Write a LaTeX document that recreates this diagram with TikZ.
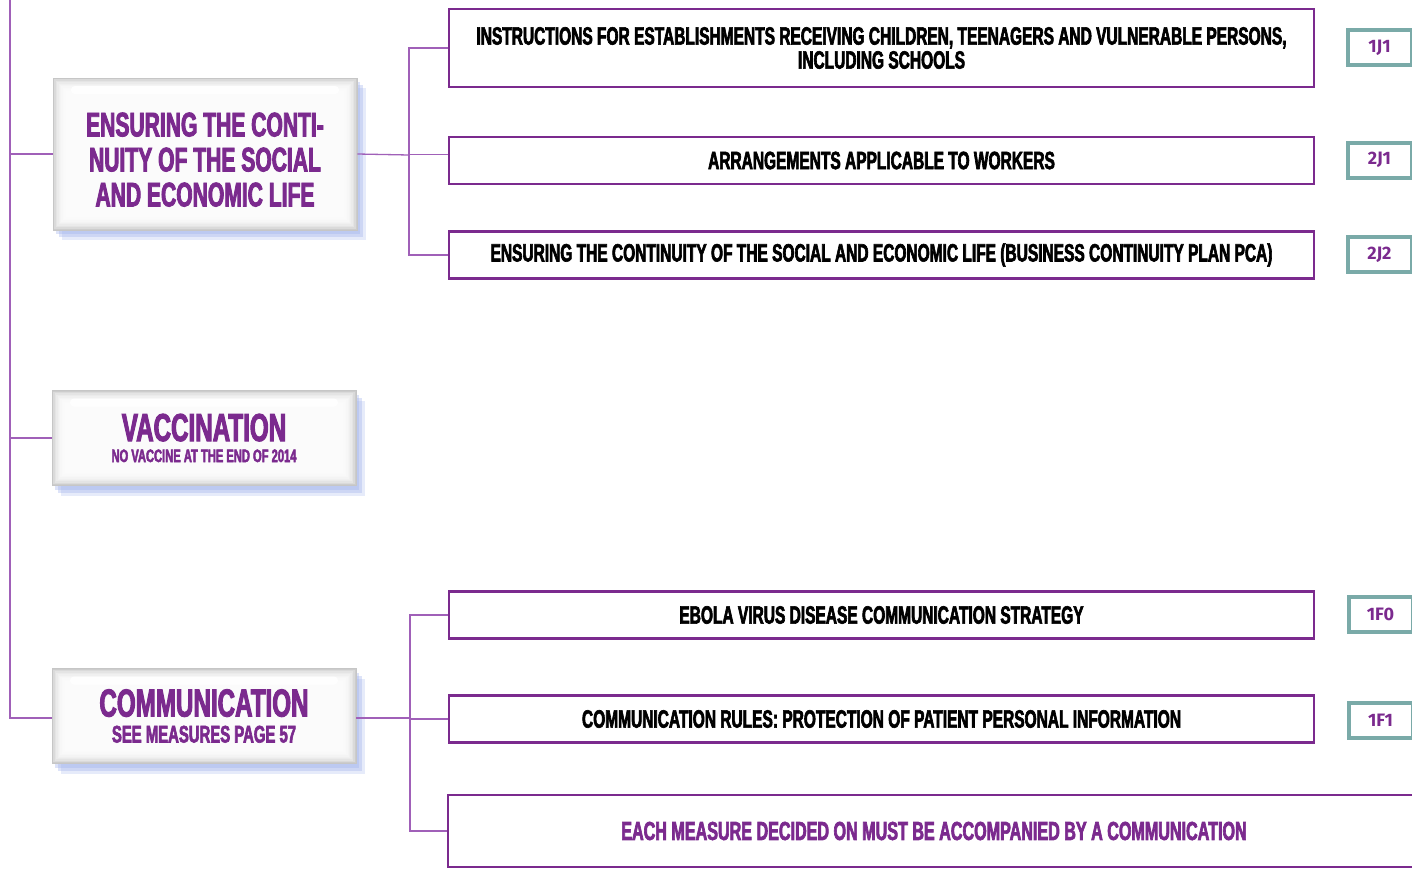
\documentclass[tikz,border=0pt]{standalone}
\usepackage{fontspec}
\setmainfont{Liberation Sans}
\newfontfamily\condfont[FakeStretch=0.62,FakeBold=2.5]{Liberation Sans Bold}
\newfontfamily\codefont{Fira Sans}
\usetikzlibrary{positioning,shadows,calc}
\definecolor{plum}{HTML}{7B2A8E}
\definecolor{plumline}{HTML}{A060B8}
\definecolor{tealgrey}{HTML}{7AAAA8}
\definecolor{shadowblue}{HTML}{9DB0EA}

\begin{document}
\begin{tikzpicture}[x=1pt,y=-1pt,
glass/.style={rectangle, draw=gray!45, line width=0.6pt, fill=gray!40, minimum width=304pt, text=plum, align=center,
  drop shadow={shadow xshift=3pt, shadow yshift=-4pt, fill=shadowblue, opacity=.35},
  drop shadow={shadow xshift=6pt, shadow yshift=-7pt, fill=shadowblue, opacity=.35},
  drop shadow={shadow xshift=9pt, shadow yshift=-10pt, fill=shadowblue, opacity=.25},
  path picture={
    \foreach \i in {1,...,9}
      \fill[white, opacity=.28] ([xshift=\i*1.4pt,yshift=-\i*1.4pt]path picture bounding box.north west) rectangle ([xshift=-\i*1.4pt,yshift=\i*1.4pt]path picture bounding box.south east);
    \fill[white, opacity=.9, rounded corners=4pt] ([xshift=18pt,yshift=-8pt]path picture bounding box.north west) rectangle ([xshift=-18pt,yshift=-16pt]path picture bounding box.north east);}},
measure/.style={rectangle, draw=plum, line width=2.8pt, minimum width=865pt, minimum height=47pt, align=center, font=\condfont\fontsize{25}{24}\selectfont},
code/.style={rectangle, draw=tealgrey, line width=4pt, minimum width=64pt, minimum height=35pt, text=plum, font=\codefont\bfseries\fontsize{18}{18}\selectfont},
tree/.style={draw=plumline, line width=1.3pt}]
\useasboundingbox (0,0) rectangle (1412,870);
\clip (0,0) rectangle (1412,870);

\node[glass, minimum height=152pt, font=\condfont\fontsize{34}{35}\selectfont] (ensure) at (205,154) {\mbox{}\\ENSURING THE CONTI-\\NUITY OF THE SOCIAL\\AND ECONOMIC LIFE};
\node[glass, minimum height=95pt, font=\condfont\fontsize{18}{21}\selectfont] (vacc) at (204,438) {{\fontsize{39}{21}\selectfont VACCINATION}\\NO VACCINE AT THE END OF 2014};
\node[glass, minimum height=95pt, font=\condfont\fontsize{24}{26}\selectfont] (comm) at (204,716) {{\fontsize{39}{26}\selectfont COMMUNICATION}\\SEE MEASURES PAGE 57};

\node[measure, minimum height=78pt] (instr) at (881.5,48) {INSTRUCTIONS FOR ESTABLISHMENTS RECEIVING CHILDREN, TEENAGERS AND VULNERABLE PERSONS,\\INCLUDING SCHOOLS};
\node[measure] (arrange) at (881.5,160.5) {ARRANGEMENTS APPLICABLE TO WORKERS};
\node[measure] (pca) at (881.5,255) {ENSURING THE CONTINUITY OF THE SOCIAL AND ECONOMIC LIFE (BUSINESS CONTINUITY PLAN PCA)};
\node[measure] (strategy) at (881.5,615) {EBOLA VIRUS DISEASE COMMUNICATION STRATEGY};
\node[measure] (rules) at (881.5,719) {COMMUNICATION RULES: PROTECTION OF PATIENT PERSONAL INFORMATION};
\node[measure, minimum width=972pt, minimum height=72pt, text=plum, font=\condfont\fontsize{26}{26}\selectfont] (each) at (934,831) {EACH MEASURE DECIDED ON MUST BE ACCOMPANIED BY A COMMUNICATION};

\node[code] (c1) at (1379.5,47.5) {1J1};
\node[code] (c2) at (1379.5,160) {2J1};
\node[code] (c3) at (1379.5,254.5) {2J2};
\node[code] (c4) at (1380.5,614) {1F0};
\node[code] (c5) at (1380.5,720) {1F1};

\coordinate (top) at (10,-5);
\coordinate (jA) at (409,155);
\coordinate (jB) at (410,718);

\draw[tree] (top) |- (ensure.west);
\draw[tree] (top) |- (vacc.west);
\draw[tree] (top) |- ([yshift=-2pt]comm.west);

\draw[tree] (ensure.east) -- (jA);
\draw[tree] (jA) |- (instr.west);
\draw[tree] (jA) |- ([yshift=6pt]arrange.west);
\draw[tree] (jA) |- (pca.west);

\draw[tree] ([yshift=-2pt]comm.east) -- (jB);
\draw[tree] (jB) |- (strategy.west);
\draw[tree] (jB) |- (rules.west);
\draw[tree] (jB) |- (each.west);

\end{tikzpicture}
\end{document}
